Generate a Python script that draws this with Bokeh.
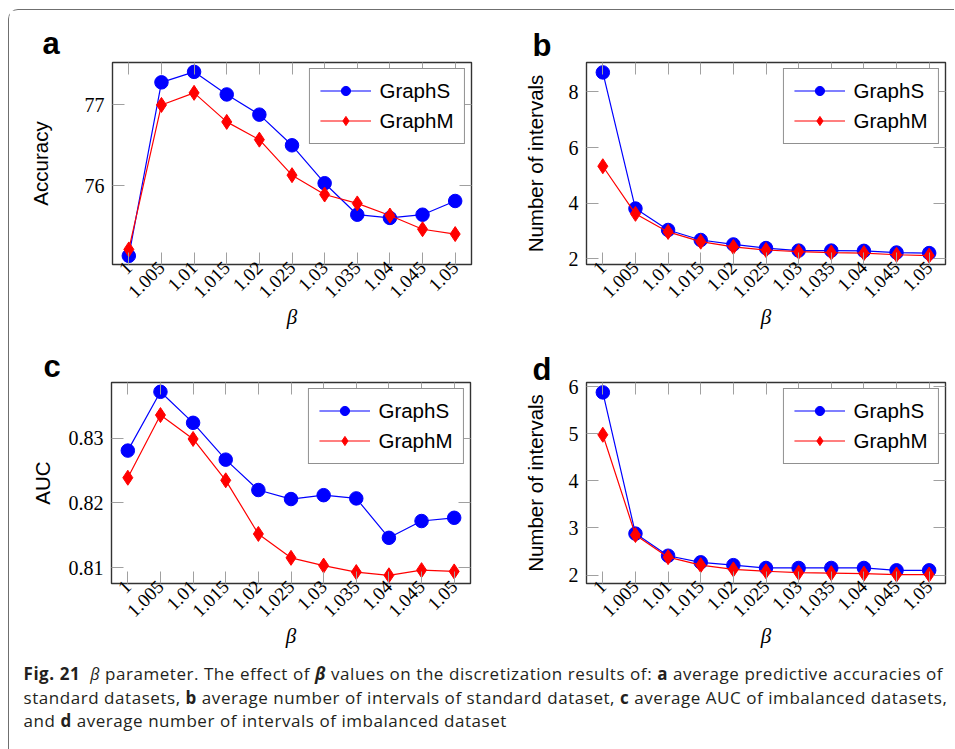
import math
from bokeh.plotting import figure
from bokeh.models import (FactorRange, Range1d, FixedTicker, LinearAxis, CategoricalAxis,
                          Div, NumeralTickFormatter)
from bokeh.layouts import column, row
from bokeh.embed import file_html
from bokeh.resources import INLINE

# ---------------- data ----------------
betas = ["1", "1.005", "1.01", "1.015", "1.02", "1.025", "1.03", "1.035", "1.04", "1.045", "1.05"]
series_names = ["GraphS", "GraphM"]

acc_graphs = [75.13, 77.28, 77.41, 77.13, 76.88, 76.50, 76.03, 75.64, 75.60, 75.64, 75.81]
acc_graphm = [75.21, 77.00, 77.15, 76.79, 76.57, 76.13, 75.89, 75.78, 75.63, 75.46, 75.40]
acc_ticks = [76, 77]

nint_std_graphs = [8.70, 3.81, 3.04, 2.68, 2.52, 2.39, 2.30, 2.30, 2.29, 2.23, 2.21]
nint_std_graphm = [5.33, 3.62, 2.97, 2.62, 2.43, 2.32, 2.26, 2.23, 2.21, 2.15, 2.12]
nint_std_ticks = [2, 4, 6, 8]

auc_graphs = [0.8281, 0.8372, 0.8324, 0.8267, 0.8220, 0.8206, 0.8212, 0.8207, 0.8146, 0.8172, 0.8177]
auc_graphm = [0.8239, 0.8336, 0.8299, 0.8235, 0.8152, 0.8115, 0.8103, 0.8093, 0.8088, 0.8096, 0.8094]
auc_ticks = [0.81, 0.82, 0.83]

nint_imb_graphs = [5.88, 2.88, 2.41, 2.27, 2.21, 2.15, 2.15, 2.15, 2.15, 2.10, 2.10]
nint_imb_graphm = [4.98, 2.85, 2.38, 2.21, 2.12, 2.08, 2.05, 2.04, 2.03, 2.01, 2.01]
nint_imb_ticks = [2, 3, 4, 5, 6]

# ---------------- styles ----------------
SERIF = "Liberation Serif"
SANS = "Liberation Sans"
TICK = "#a0a0a0"
BLUE = "#0000ff"
RED = "#ff0000"


def panel(letter, ys, ym, yr, ticks, ylabel, fmt, w, h, mb, ylab_standoff, letter_offset,
          letter_standoff):
    p = figure(width=w, height=h, x_range=FactorRange(*betas, range_padding=0),
               y_range=Range1d(*yr), output_backend="svg", toolbar_location=None,
               min_border_left=mb[0], min_border_right=mb[1],
               min_border_top=mb[2], min_border_bottom=mb[3])
    p.xgrid.visible = False
    p.ygrid.visible = False
    p.outline_line_color = "#333333"
    p.outline_line_width = 1.4
    p.background_fill_color = "white"
    p.border_fill_color = "white"

    # panel letter as title
    p.title.text = letter
    p.title.align = "left"
    p.title.offset = letter_offset
    p.title.text_font = SANS
    p.title.text_font_style = "bold"
    p.title.text_font_size = "31px"
    p.title.text_color = "black"
    p.title.standoff = letter_standoff

    xa = p.xaxis[0]
    xa.axis_line_color = None
    xa.major_tick_in = 12
    xa.major_tick_out = 0
    xa.major_tick_line_color = TICK
    xa.major_label_orientation = math.pi / 4
    xa.major_label_text_font = SERIF
    xa.major_label_text_font_size = "19px"
    xa.major_label_text_color = "black"
    xa.major_label_standoff = 0
    xa.axis_label = "β"
    xa.axis_label_text_font = SERIF
    xa.axis_label_text_font_style = "italic"
    xa.axis_label_text_font_size = "21px"
    xa.axis_label_text_color = "black"
    xa.axis_label_standoff = -2

    ya = p.yaxis[0]
    ya.ticker = FixedTicker(ticks=ticks)
    ya.formatter = NumeralTickFormatter(format=fmt)
    ya.axis_line_color = None
    ya.major_tick_in = 12
    ya.major_tick_out = 0
    ya.minor_tick_in = 0
    ya.minor_tick_out = 0
    ya.major_tick_line_color = TICK
    ya.major_label_text_font = SERIF
    ya.major_label_text_font_size = "20px"
    ya.major_label_text_color = "black"
    ya.major_label_standoff = 8
    ya.axis_label = ylabel
    ya.axis_label_text_font = SANS
    ya.axis_label_text_font_style = "normal"
    ya.axis_label_text_font_size = "20.5px"
    ya.axis_label_text_color = "black"
    ya.axis_label_standoff = ylab_standoff

    # mirrored tick marks on top and right (labels not drawn)
    top = CategoricalAxis(axis_line_color=None, major_tick_in=12, major_tick_out=0,
                          major_tick_line_color=TICK, major_label_text_color=None,
                          major_label_text_font_size="1px", major_label_standoff=0,
                          group_text_color=None, subgroup_text_color=None,
                          group_text_font_size="1px", subgroup_text_font_size="1px")
    p.add_layout(top, "above")
    right = LinearAxis(ticker=FixedTicker(ticks=ticks), axis_line_color=None,
                       major_tick_in=12, major_tick_out=0, minor_tick_in=0, minor_tick_out=0,
                       major_tick_line_color=TICK, major_label_text_color=None,
                       major_label_text_font_size="1px", major_label_standoff=0)
    p.add_layout(right, "right")

    p.line(betas, ys, line_color=BLUE, line_width=1.2, legend_label=series_names[0])
    p.scatter(betas, ys, marker="circle", size=13.5, fill_color=BLUE, line_color=BLUE,
              legend_label=series_names[0])
    p.line(betas, ym, line_color=RED, line_width=1.2, legend_label=series_names[1])
    p.scatter(betas, ym, marker="diamond", size=15, fill_color=RED, line_color=RED,
              legend_label=series_names[1])

    lg = p.legend[0]
    lg.location = "top_right"
    lg.margin = 6
    lg.border_line_color = "#222222"
    lg.border_line_width = 1.4
    lg.background_fill_color = "white"
    lg.background_fill_alpha = 1.0
    lg.padding = 10
    lg.spacing = 6
    lg.glyph_width = 51
    lg.glyph_height = 23
    lg.label_standoff = 9
    lg.label_text_font = SANS
    lg.label_text_font_size = "20.5px"
    lg.label_text_color = "black"
    lg.label_height = 23
    return p


pa = panel("a", acc_graphs, acc_graphm, (75.023, 77.526), acc_ticks, "Accuracy", "0",
           470, 338, (103, 8, 52, 80), 30, -70, 3)
pb = panel("b", nint_std_graphs, nint_std_graphm, (1.80, 9.056), nint_std_ticks,
           "Number of intervals", "0", 475, 338, (107, 9, 48, 84), 19, -54, 0)
pc = panel("c", auc_graphs, auc_graphm, (0.80753, 0.83864), auc_ticks, "AUC", "0.00",
           470, 318, (102, 9, 33, 80), 12, -68, -3)
pd = panel("d", nint_imb_graphs, nint_imb_graphm, (1.82, 6.09), nint_imb_ticks,
           "Number of intervals", "0", 475, 318, (107, 9, 29, 83), 19, -54, -8)

caption_html = (
    "<div style='position:relative; top:-9px'>"
    "<b>Fig. 21</b>&nbsp;&nbsp;<i style='font-size:16px'>β</i> parameter. "
    "The effect of <b><i>β</i></b> values on the discretization results of: "
    "<b>a</b> average predictive accuracies of<br>"
    "standard datasets, <b>b</b> average number of intervals of standard dataset, "
    "<b>c</b> average AUC of imbalanced datasets,<br>"
    "and <b>d</b> average number of intervals of imbalanced dataset"
    "</div>"
)
cap = Div(text=caption_html, width=935, height=83,
          styles={"font-family": "Open Sans", "font-size": "17px", "line-height": "23px",
                  "letter-spacing": "0.55px", "overflow": "visible",
                  "color": "#231f20", "white-space": "nowrap", "padding-left": "10px",
                  "padding-top": "0px"})

layout = column(row(pa, pb, spacing=0), row(pc, pd, spacing=0), cap, spacing=0,
                styles={"border-left": "1.5px solid #6f6f6f", "border-top": "1.5px solid #6f6f6f",
                        "border-top-left-radius": "10px", "border-bottom-left-radius": "10px",
                        "margin-left": "7.5px", "margin-top": "8.5px"})

open("out.html", "w").write(file_html(layout, INLINE))
